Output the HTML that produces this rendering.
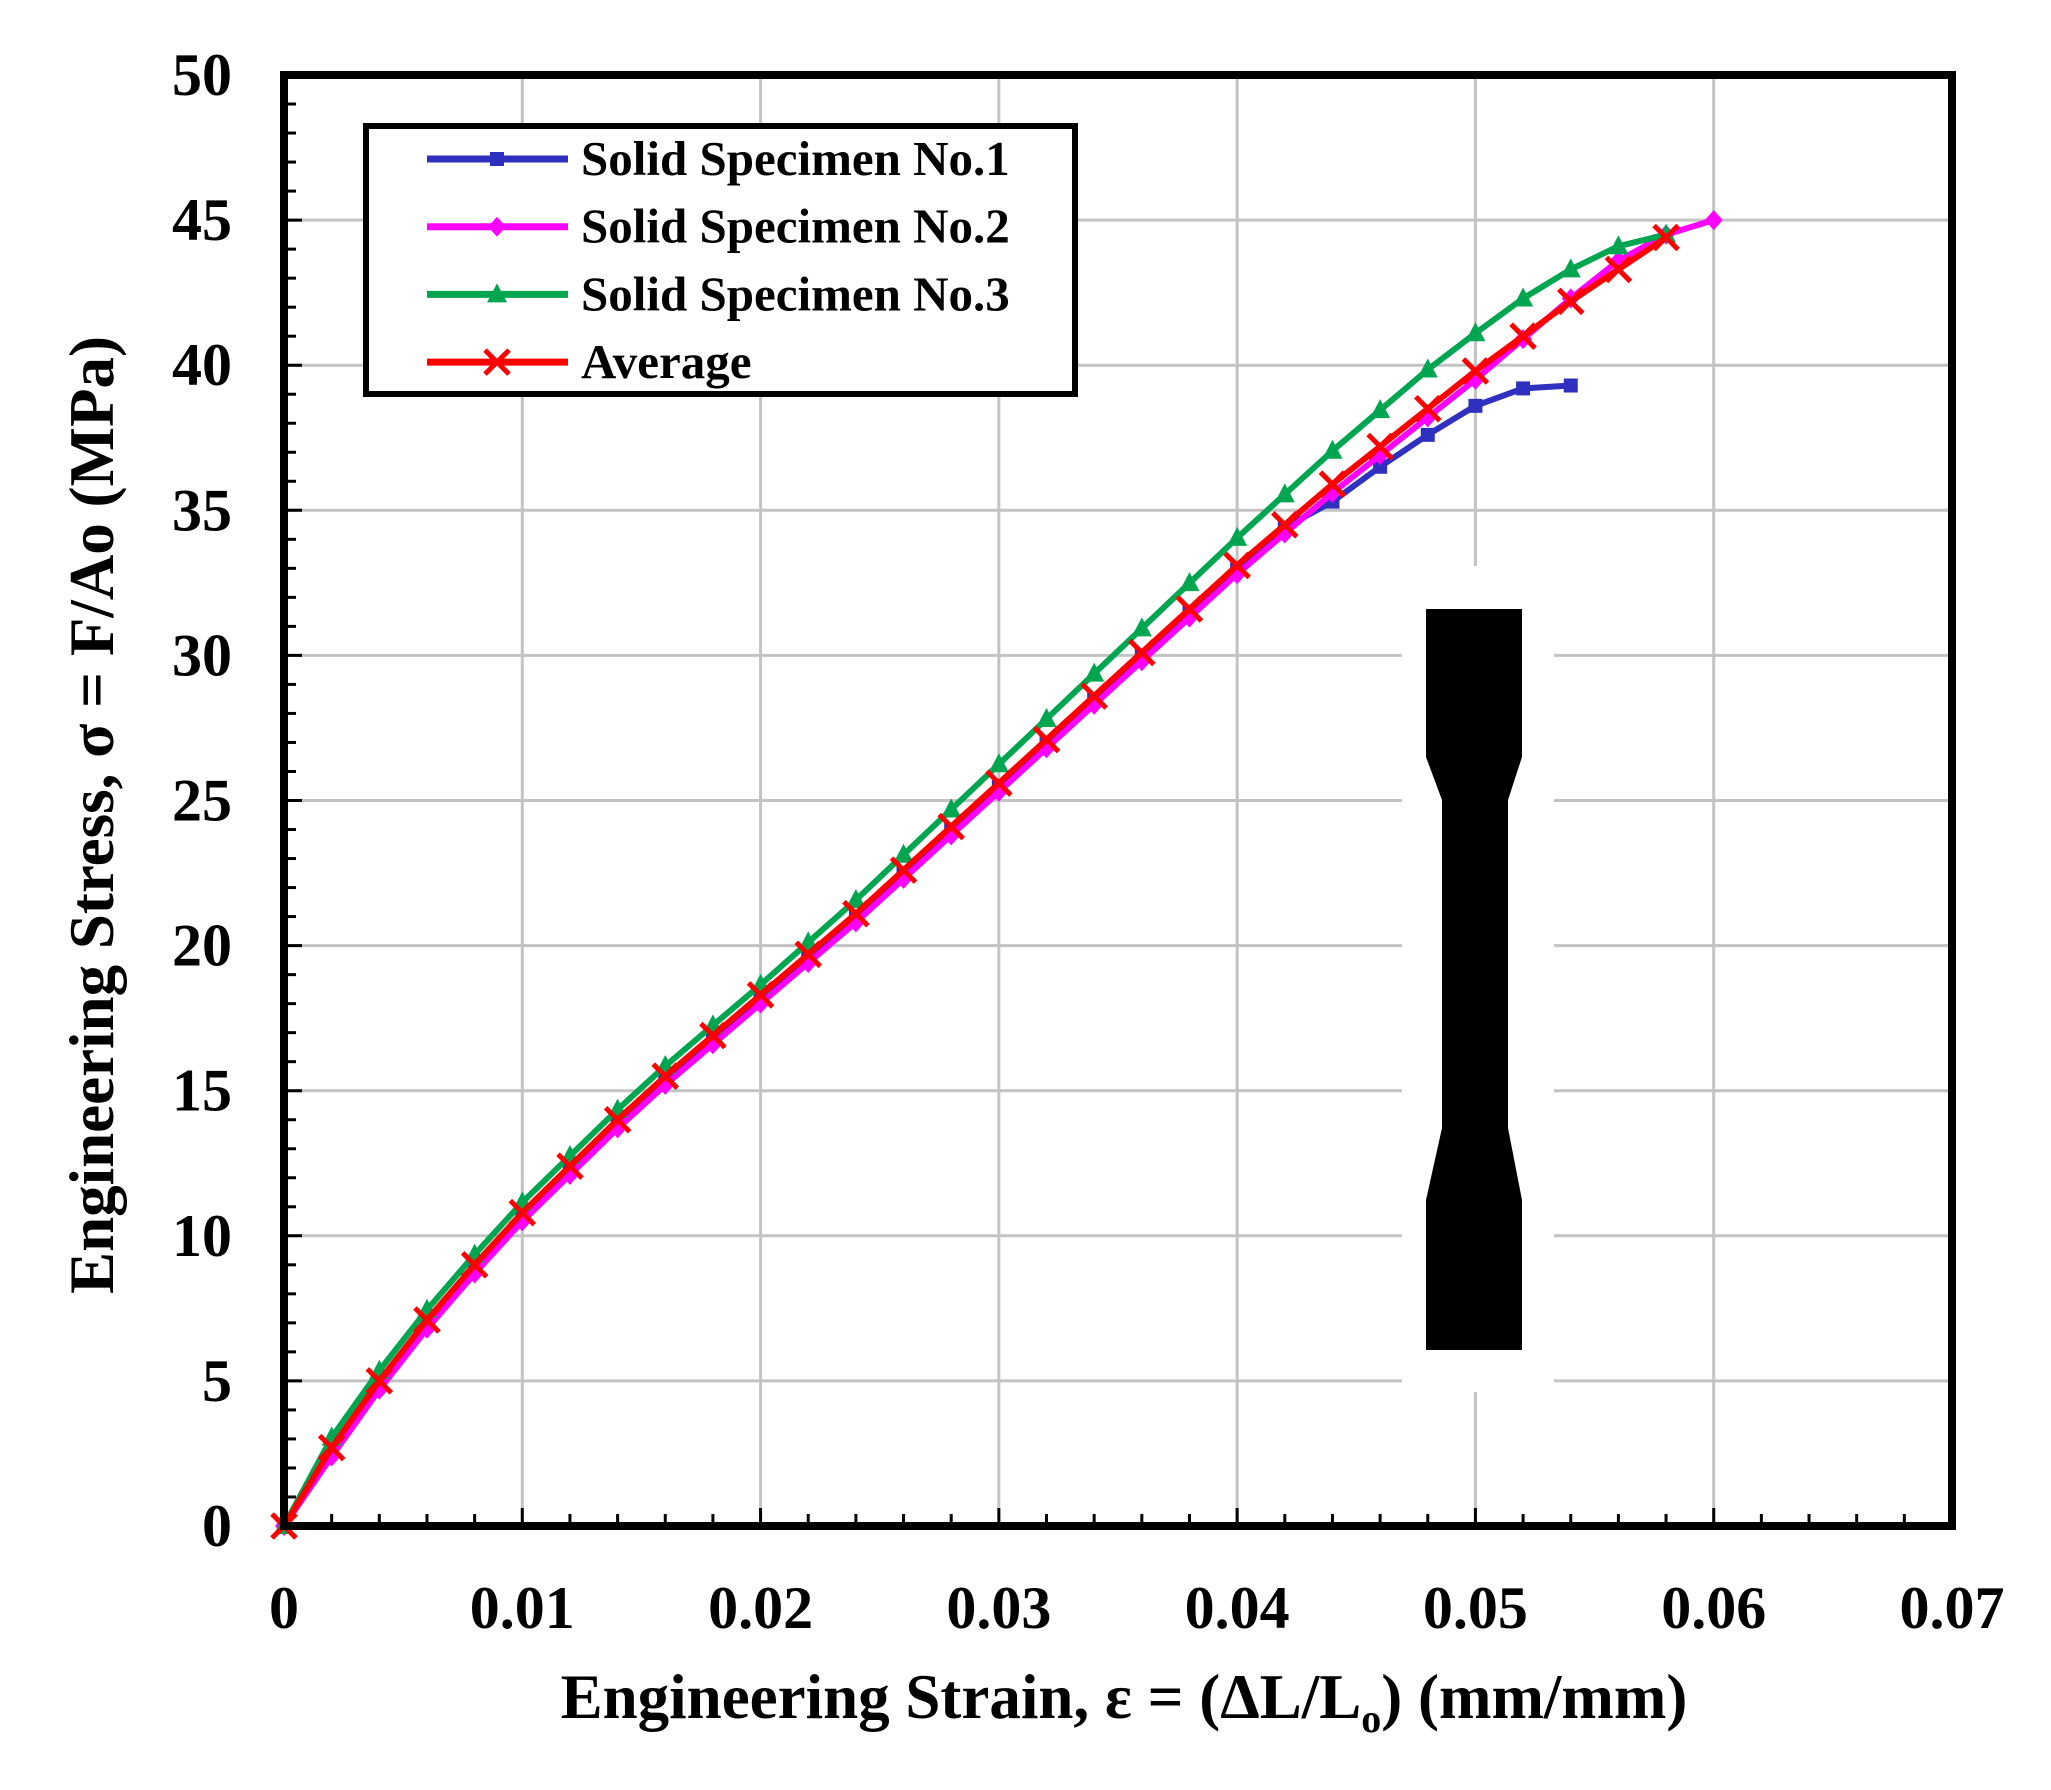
<!DOCTYPE html>
<html><head><meta charset="utf-8"><style>
html,body{margin:0;padding:0;background:#fff;}
svg{display:block;}
text{font-family:"Liberation Serif",serif;font-weight:bold;fill:#000;}
</style></head><body>
<svg id="s" width="2051" height="1790" viewBox="0 0 2051 1790" xmlns="http://www.w3.org/2000/svg"></svg>
<script>
const L=284,R=1952,T=75,B=1526;
const X=v=>L+(v/0.07)*(R-L), Y=v=>B-(v/50)*(B-T);
let s='';
for(let i=1;i<7;i++){const x=X(i*0.01);s+=`<line x1="${x}" y1="${T}" x2="${x}" y2="${B}" stroke="#c3c3c3" stroke-width="3"/>`;}
for(let i=1;i<10;i++){const y=Y(i*5);s+=`<line x1="${L}" y1="${y}" x2="${R}" y2="${y}" stroke="#c3c3c3" stroke-width="3"/>`;}
s+=`<rect x="1402" y="566" width="152" height="826" fill="#fff"/>`;
s+=`<path d="M1426 609 H1522 V757 L1508 800 V1128 L1522 1200 V1350 H1426 V1200 L1442 1128 V800 L1426 757 Z" fill="#000"/>`;
for(let i=1;i<35;i++){const x=X(i*0.002);const len=i%5==0?18:12;s+=`<line x1="${x}" y1="${B}" x2="${x}" y2="${B-len}" stroke="#000" stroke-width="3"/>`;}
for(let i=1;i<50;i++){const y=Y(i);const len=i%5==0?18:12;s+=`<line x1="${L}" y1="${y}" x2="${L+len}" y2="${y}" stroke="#000" stroke-width="3"/>`;}
const avg=[0,2.7,5.0,7.1,9.0,10.8,12.4,14.0,15.5,16.9,18.3,19.7,21.1,22.6,24.1,25.6,27.1,28.6,30.1,31.6,33.1,34.5,35.9,37.2,38.5,39.8,41.0,42.2,43.3,44.4];
const g=avg.map((v,i)=>i==0?0:v+0.35+(i>10?Math.min(i-10,10)*0.06:0)+(i>20?(i-20)*0.1:0));
g[25]=41.1;g[26]=42.3;g[27]=43.3;g[28]=44.1;g[29]=44.5;
const m=avg.map((v,i)=>i==0?0:v-0.3);m[26]=40.9;m[27]=42.3;m[28]=43.6;m[29]=44.5;m.push(45.0);
const b=avg.slice(0,28).map((v,i)=>i==0?0:(i<22?v-0.1:v));
b[22]=35.3;b[23]=36.5;b[24]=37.6;b[25]=38.6;b[26]=39.2;b[27]=39.3;
function series(arr,col,mk){
 let p=arr.map((v,i)=>`${X(i*0.002).toFixed(1)},${Y(v).toFixed(1)}`).join(' ');
 s+=`<polyline points="${p}" fill="none" stroke="${col}" stroke-width="6" stroke-linejoin="round"/>`;
 arr.forEach((v,i)=>{s+=mk(X(i*0.002),Y(v),col);});
}
const sq=(x,y,c)=>`<rect x="${x-7}" y="${y-7}" width="14" height="14" fill="${c}"/>`;
const di=(x,y,c)=>`<path d="M${x} ${y-10}L${x+9} ${y}L${x} ${y+10}L${x-9} ${y}Z" fill="${c}"/>`;
const tr=(x,y,c)=>`<path d="M${x} ${y-11}L${x+10} ${y+8}L${x-10} ${y+8}Z" fill="${c}"/>`;
const cr=(x,y,c)=>`<path d="M${x-12} ${y-12}L${x+12} ${y+12}M${x+12} ${y-12}L${x-12} ${y+12}" stroke="${c}" stroke-width="5"/>`;
series(b,'#3030c0',sq);series(m,'#ff00ff',di);series(g,'#00a550',tr);series(avg,'#ff0000',cr);
s+=`<rect x="${L}" y="${T}" width="${R-L}" height="${B-T}" fill="none" stroke="#000" stroke-width="8"/>`;
for(let i=0;i<=10;i++){s+=`<text x="232" y="${Y(i*5)+20}" font-size="60" text-anchor="end">${i*5}</text>`;}
const xl=['0','0.01','0.02','0.03','0.04','0.05','0.06','0.07'];
xl.forEach((t,i)=>{s+=`<text x="${X(i*0.01)}" y="1628" font-size="60" text-anchor="middle">${t}</text>`;});
s+=`<text x="1124" y="1718" font-size="63" text-anchor="middle">Engineering Strain, ε = (ΔL/L<tspan font-size="40" dy="14">o</tspan><tspan dy="-14">) (mm/mm)</tspan></text>`;
s+=`<text transform="translate(113,815) rotate(-90)" font-size="63" text-anchor="middle">Engineering Stress, σ = F/Ao (MPa)</text>`;
s+=`<rect x="366" y="126" width="709" height="268" fill="#fff" stroke="#000" stroke-width="6"/>`;
const le=[['Solid Specimen No.1','#3030c0',sq],['Solid Specimen No.2','#ff00ff',di],['Solid Specimen No.3','#00a550',tr],['Average','#ff0000',cr]];
le.forEach((e,i)=>{const y=159+i*67.7;s+=`<line x1="427" y1="${y}" x2="568" y2="${y}" stroke="${e[1]}" stroke-width="7"/>`+e[2](497,y,e[1])+`<text x="581" y="${y+16}" font-size="49">${e[0]}</text>`;});
document.getElementById('s').innerHTML=s;
</script>
</body></html>
